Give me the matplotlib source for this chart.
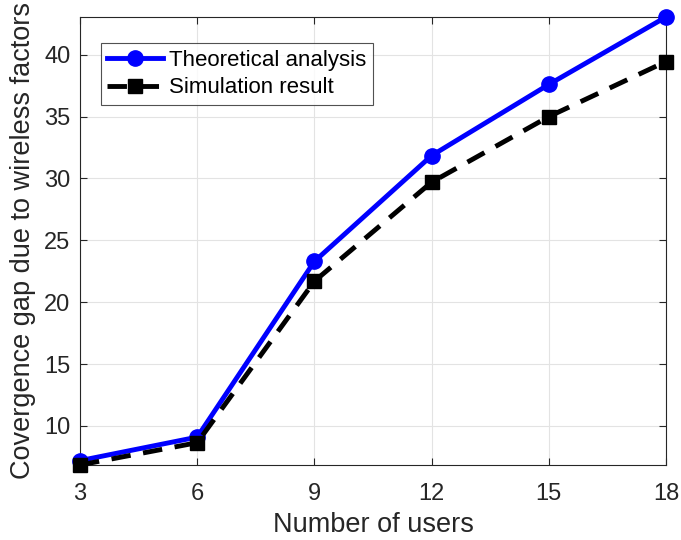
import numpy as np
import matplotlib.pyplot as plt

users = [3, 6, 9, 12, 15, 18]
theory = [7.2, 9.1, 23.3, 31.85, 37.6, 43.05]
simulation = [6.85, 8.65, 21.7, 29.7, 35.0, 39.45]

plt.rcParams['font.family'] = ['Liberation Sans', 'DejaVu Sans']

fig = plt.figure(figsize=(6.81, 5.4), dpi=100)
ax = fig.add_axes([0.1175, 0.139, 0.8605, 0.8295])

ax.plot(users, theory, '-o', color='#0000ff', lw=3.5, ms=11, label='Theoretical analysis',
        clip_on=False, zorder=3)
ax.plot(users, simulation, '--s', color='black', lw=3.5, ms=10.5, dashes=(4, 2.6),
        label='Simulation result', clip_on=False, zorder=3)

ax.set_xlim(3, 18)
ax.set_ylim(min(simulation), max(theory))
ax.set_xticks(users)
ax.set_yticks([10, 15, 20, 25, 30, 35, 40])
ax.grid(True, color='#e3e3e3', lw=0.8)
ax.set_axisbelow(True)
ax.tick_params(direction='in', labelsize=17, colors='#262626', length=5, top=True, right=True)
ax.tick_params(axis='x', pad=13)
ax.tick_params(axis='y', pad=7)
for s in ax.spines.values():
    s.set_color('#262626')
    s.set_linewidth(0.8)

ax.set_xlabel('Number of users', fontsize=19.5, color='#262626', labelpad=5)
ax.set_ylabel('Covergence gap due to wireless factors', fontsize=19.5, color='#262626', labelpad=6)

leg = ax.legend(loc='upper left', fontsize=16, fancybox=False, edgecolor='#262626',
                bbox_to_anchor=(0.035, 0.942), borderaxespad=0, handlelength=2.5,
                handletextpad=0.3, borderpad=0.3, labelspacing=0.3)
leg.get_frame().set_linewidth(0.8)
leg.set_zorder(5)

fig.savefig('out.png', dpi=100)
